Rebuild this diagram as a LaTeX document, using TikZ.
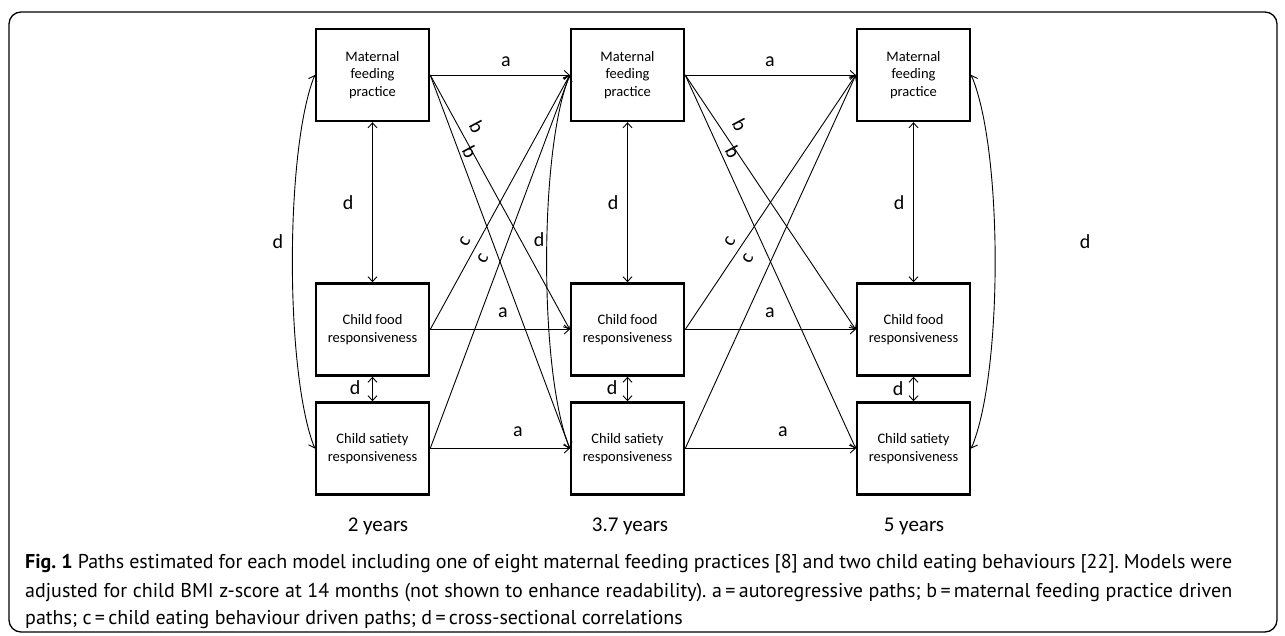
\documentclass[tikz,border=0pt]{standalone}
\usepackage{fontspec}
\setmainfont{Carlito}
\newfontfamily\capfont{PT Sans}
\usetikzlibrary{arrows.meta}
\frenchspacing
\begin{document}
\begin{tikzpicture}[x=1pt,y=-1pt,
  box/.style={draw, line width=2.4pt, minimum width=113pt, minimum height=92pt, inner sep=0pt, align=center, font=\fontsize{14.5}{17.7}\selectfont},
  tip/.tip={Straight Barb[length=5pt,width=9pt]},
  conn/.style={line width=0.9pt, -tip},
  dconn/.style={line width=0.9pt, tip-tip},
  lab/.style={font=\fontsize{20}{24}\selectfont, inner sep=0pt},
  yr/.style={font=\fontsize{21}{25}\selectfont, inner sep=0pt},
  capline/.style={anchor=base west, inner sep=0pt, font=\capfont\fontsize{20}{24}\selectfont}]
\useasboundingbox (0,0) rectangle (1285,636);
\fill[white] (0,0) rectangle (1285,636);
\draw[line width=1.3pt, rounded corners=12pt] (9,12) rectangle (1277,632);

% boxes
\node[box] (M1) at (372.5,75) {Maternal\\feeding\\practice};
\node[box] (F1) at (372.5,329.5) {Child food\\responsiveness};
\node[box] (S1) at (372.5,448.5) {Child satiety\\responsiveness};
\node[box] (M2) at (627.5,75) {Maternal\\feeding\\practice};
\node[box] (F2) at (627.5,329.5) {Child food\\responsiveness};
\node[box] (S2) at (627.5,448.5) {Child satiety\\responsiveness};
\node[box] (M3) at (913.5,75) {Maternal\\feeding\\practice};
\node[box] (F3) at (913.5,329.5) {Child food\\responsiveness};
\node[box] (S3) at (913.5,448.5) {Child satiety\\responsiveness};

% a paths
\draw[conn] (M1.east) -- (M2.west);
\draw[conn] (F1.east) -- (F2.west);
\draw[conn] (S1.east) -- (S2.west);
\draw[conn] (M2.east) -- (M3.west);
\draw[conn] (F2.east) -- (F3.west);
\draw[conn] (S2.east) -- (S3.west);
% b paths
\draw[conn] (M1.east) -- (F2.west);
\draw[conn] (M1.east) -- (S2.west);
\draw[conn] (M2.east) -- (F3.west);
\draw[conn] (M2.east) -- (S3.west);
% c paths
\draw[conn] (F1.east) -- (M2.west);
\draw[conn] (S1.east) -- (M2.west);
\draw[conn] (F2.east) -- (M3.west);
\draw[conn] (S2.east) -- (M3.west);
% d vertical
\draw[dconn] (M1.south) -- (F1.north);
\draw[dconn] (F1.south) -- (S1.north);
\draw[dconn] (M2.south) -- (F2.north);
\draw[dconn] (F2.south) -- (S2.north);
\draw[dconn] (M3.south) -- (F3.north);
\draw[dconn] (F3.south) -- (S3.north);
% d curves
\draw[dconn] (M1.west) .. controls (285,150) and (285,373) .. (S1.west);
\draw[dconn] (M2.west) .. controls (539,150) and (539,373) .. (S2.west);
\draw[dconn] (M3.east) .. controls (1003,150) and (1003,373) .. (S3.east);

% labels
\node[lab] (la1) at (506,62) {a};
\node[lab] (la2) at (770,62) {a};
\node[lab] (la3) at (503,313) {a};
\node[lab] (la4) at (770,313) {a};
\node[lab] (la5) at (518,432) {a};
\node[lab] (la6) at (783,432) {a};
\node[lab, rotate=-62] (lb1) at (477,127) {b};
\node[lab, rotate=-62] (lb2) at (470,152) {b};
\node[lab, rotate=-62] (lb3) at (740,125) {b};
\node[lab, rotate=-62] (lb4) at (733,152) {b};
\node[lab, rotate=62] (lc1) at (465,242) {c};
\node[lab, rotate=62] (lc2) at (483,259) {c};
\node[lab, rotate=62] (lc3) at (730,242) {c};
\node[lab, rotate=62] (lc4) at (748,259) {c};
\node[lab] (ld1) at (348,203) {d};
\node[lab] (ld2) at (613,203) {d};
\node[lab] (ld3) at (899,203) {d};
\node[lab] (ld4) at (355,388) {d};
\node[lab] (ld5) at (612,388) {d};
\node[lab] (ld6) at (898,389) {d};
\node[lab] (ld7) at (278,242) {d};
\node[lab] (ld8) at (539,240) {d};
\node[lab] (ld9) at (1085,242) {d};

% years
\node[yr] (y1) at (378,526) {2 years};
\node[yr] (y2) at (630,526) {3.7 years};
\node[yr] (y3) at (914,526) {5 years};

% caption
\node[capline] (cap1) at (25,568) {\makebox[1207pt][s]{\mbox{\textbf{Fig.\ 1}} Paths estimated for each model including one of eight maternal feeding practices [8] and two child eating behaviours [22]. Models were}};
\node[capline] (cap2) at (25,597) {\makebox[1207pt][s]{adjusted for child BMI z-score at 14 months (not shown to enhance readability). a\,=\,autoregressive paths; b\,=\,maternal feeding practice driven}};
\node[capline] (cap3) at (25,624) {paths; c\,=\,child eating behaviour driven paths; d\,=\,cross-sectional correlations};
\end{tikzpicture}
\end{document}
